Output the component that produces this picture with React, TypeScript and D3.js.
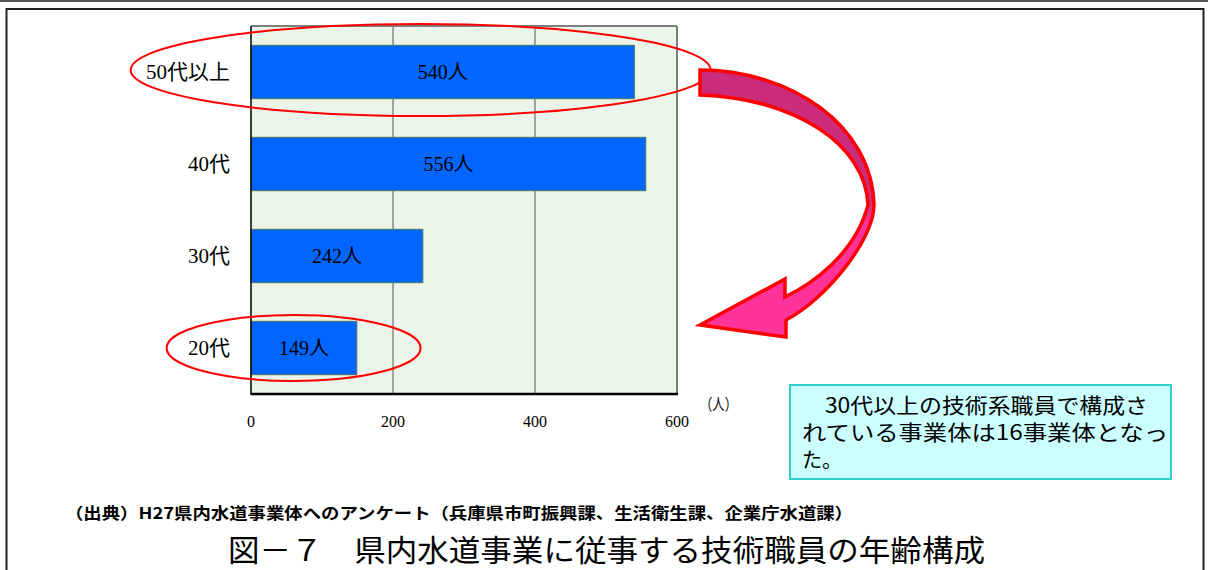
import { useEffect, useRef } from "react";
import * as d3 from "d3";

const categories = ["50代以上", "40代", "30代", "20代"];
const counts = [540, 556, 242, 149];
const xTicks = [0, 200, 400, 600];
const unitLabel = "（人）";
const noteLines = ["　30代以上の技術系職員で構成さ", "れている事業体は16事業体となっ", "た。"];
const sourceText = "（出典）H27県内水道事業体へのアンケート（兵庫県市町振興課、生活衛生課、企業庁水道課）";
const titleText = "図－７　県内水道事業に従事する技術職員の年齢構成";

const W = 1208;
const H = 570;
const serif = "'Liberation Serif', 'DejaVu Serif', 'Noto Sans CJK JP', serif";
const gothic = "'Noto Sans CJK JP', 'Noto Sans', sans-serif";

export default function App() {
  const svgRef = useRef<SVGSVGElement>(null);

  useEffect(() => {
    if (!svgRef.current) return;
    const svg = d3.select(svgRef.current);
    svg.selectAll("*").remove();

    const plot = { left: 251, right: 677, top: 26, bottom: 394 };
    const x = d3.scaleLinear().domain([0, 600]).range([plot.left, plot.right]);
    const y = d3
      .scaleBand()
      .domain(categories)
      .range([plot.top, plot.bottom])
      .paddingInner(0.42)
      .paddingOuter(0.21);

    // page frame
    svg.append("rect").attr("x", 0).attr("y", 0).attr("width", W).attr("height", 2).attr("fill", "#555");
    svg
      .append("rect")
      .attr("x", 6.5)
      .attr("y", 9)
      .attr("width", 1197)
      .attr("height", 600)
      .attr("fill", "none")
      .attr("stroke", "#222")
      .attr("stroke-width", 2);

    // plot background + grid
    svg
      .append("rect")
      .attr("x", plot.left)
      .attr("y", plot.top)
      .attr("width", plot.right - plot.left)
      .attr("height", plot.bottom - plot.top)
      .attr("fill", "#EBF5EA");

    svg
      .selectAll("line.grid")
      .data(xTicks.filter((t) => t > 0 && t < 600))
      .enter()
      .append("line")
      .attr("class", "grid")
      .attr("x1", (d) => x(d))
      .attr("x2", (d) => x(d))
      .attr("y1", plot.top)
      .attr("y2", plot.bottom)
      .attr("stroke", "#8a8a8a")
      .attr("stroke-width", 1.5);

    // plot borders
    svg.append("line").attr("x1", plot.left).attr("x2", plot.right).attr("y1", plot.top).attr("y2", plot.top)
      .attr("stroke", "#7f7f7f").attr("stroke-width", 2);
    svg.append("line").attr("x1", plot.right).attr("x2", plot.right).attr("y1", plot.top).attr("y2", plot.bottom)
      .attr("stroke", "#555").attr("stroke-width", 1.5);

    // bars
    svg
      .selectAll("rect.bar")
      .data(categories)
      .enter()
      .append("rect")
      .attr("class", "bar")
      .attr("x", x(0))
      .attr("y", (d) => y(d) || 0)
      .attr("width", (_d, i) => x(counts[i]) - x(0))
      .attr("height", y.bandwidth())
      .attr("fill", "#0066FF")
      .attr("stroke", "#4d7560")
      .attr("stroke-width", 1);

    svg
      .selectAll("text.val")
      .data(categories)
      .enter()
      .append("text")
      .attr("class", "val")
      .attr("x", (_d, i) => (x(0) + x(counts[i])) / 2)
      .attr("y", (d) => (y(d) || 0) + y.bandwidth() / 2 + 7)
      .attr("text-anchor", "middle")
      .style("font-family", serif)
      .style("font-size", "20px")
      .attr("fill", "#000")
      .text((_d, i) => `${counts[i]}人`);

    // left + bottom axis lines
    svg.append("line").attr("x1", plot.left).attr("x2", plot.left).attr("y1", plot.top).attr("y2", plot.bottom + 1)
      .attr("stroke", "#000").attr("stroke-width", 1.5);
    svg.append("line").attr("x1", plot.left).attr("x2", plot.right + 1).attr("y1", plot.bottom).attr("y2", plot.bottom)
      .attr("stroke", "#000").attr("stroke-width", 2.5);

    // category labels
    svg
      .selectAll("text.cat")
      .data(categories)
      .enter()
      .append("text")
      .attr("class", "cat")
      .attr("x", 230)
      .attr("y", (d) => (y(d) || 0) + y.bandwidth() / 2 + 7)
      .attr("text-anchor", "end")
      .style("font-family", serif)
      .style("font-size", "21px")
      .attr("fill", "#000")
      .text((d) => d);

    // tick labels
    svg
      .selectAll("text.tick")
      .data(xTicks)
      .enter()
      .append("text")
      .attr("class", "tick")
      .attr("x", (d) => x(d))
      .attr("y", 427)
      .attr("text-anchor", "middle")
      .style("font-family", serif)
      .style("font-size", "16px")
      .attr("fill", "#000")
      .text((d) => d);

    svg
      .append("text")
      .attr("x", 700)
      .attr("y", 410)
      .attr("textLength", 37)
      .attr("lengthAdjust", "spacingAndGlyphs")
      .style("font-family", gothic)
      .style("font-size", "16px")
      .attr("fill", "#000")
      .text(unitLabel);

    // red ellipses around 50代以上 and 20代
    const band = (c: string) => (y(c) || 0) + y.bandwidth() / 2;
    svg
      .append("ellipse")
      .attr("cx", x(239))
      .attr("cy", band(categories[0]) - 2)
      .attr("rx", 290)
      .attr("ry", 46)
      .attr("fill", "none")
      .attr("stroke", "#FF0000")
      .attr("stroke-width", 2);
    svg
      .append("ellipse")
      .attr("cx", x(60))
      .attr("cy", band(categories[3]))
      .attr("rx", 127)
      .attr("ry", 33)
      .attr("fill", "none")
      .attr("stroke", "#FF0000")
      .attr("stroke-width", 2);

    // curved arrow
    const defs = svg.append("defs");
    const grad = defs
      .append("linearGradient")
      .attr("id", "arrowGrad")
      .attr("gradientUnits", "userSpaceOnUse")
      .attr("x1", 0)
      .attr("x2", 0)
      .attr("y1", 70)
      .attr("y2", 337);
    grad.append("stop").attr("offset", 0).attr("stop-color", "#CC2A7A");
    grad.append("stop").attr("offset", 0.48).attr("stop-color", "#CC2A7A");
    grad.append("stop").attr("offset", 0.58).attr("stop-color", "#FF3399");
    grad.append("stop").attr("offset", 1).attr("stop-color", "#FF3399");

    const p = d3.path();
    p.moveTo(700, 70);
    p.bezierCurveTo(790, 70, 872, 125, 874, 205);
    p.bezierCurveTo(874, 240, 825, 300, 786, 320);
    p.lineTo(786, 337);
    p.lineTo(700, 325);
    p.lineTo(785, 279);
    p.lineTo(785, 297);
    p.bezierCurveTo(810, 285, 855, 255, 868, 205);
    p.bezierCurveTo(866, 145, 795, 98, 700, 95);
    p.closePath();
    svg
      .append("path")
      .attr("d", p.toString())
      .attr("fill", "url(#arrowGrad)")
      .attr("stroke", "#FF0000")
      .attr("stroke-width", 3.5)
      .attr("stroke-linejoin", "miter");

    // note box
    svg
      .append("rect")
      .attr("x", 790)
      .attr("y", 385)
      .attr("width", 381)
      .attr("height", 94)
      .attr("fill", "#CCFFFF")
      .attr("stroke", "#33CCCC")
      .attr("stroke-width", 2);
    const noteWidths = [346, 366, 40];
    svg
      .selectAll("text.note")
      .data(noteLines)
      .enter()
      .append("text")
      .attr("class", "note")
      .attr("x", 802)
      .attr("y", (_d, i) => 413 + i * 27)
      .attr("textLength", (_d, i) => noteWidths[i])
      .attr("lengthAdjust", "spacingAndGlyphs")
      .style("font-family", gothic)
      .style("font-size", "21px")
      .attr("fill", "#000")
      .text((d) => d);

    // source + title
    svg
      .append("text")
      .attr("x", 65)
      .attr("y", 519)
      .attr("textLength", 788)
      .attr("lengthAdjust", "spacingAndGlyphs")
      .style("font-family", gothic)
      .style("font-size", "16px")
      .style("font-weight", 700)
      .attr("fill", "#000")
      .text(sourceText);

    svg
      .append("text")
      .attr("x", 228)
      .attr("y", 561)
      .attr("textLength", 757)
      .attr("lengthAdjust", "spacingAndGlyphs")
      .style("font-family", gothic)
      .style("font-size", "30px")
      .attr("fill", "#000")
      .text(titleText);
  }, []);

  return (
    <svg
      ref={svgRef}
      width={W}
      height={H}
      style={{ position: "absolute", left: 0, top: 0, background: "#fff" }}
    />
  );
}
